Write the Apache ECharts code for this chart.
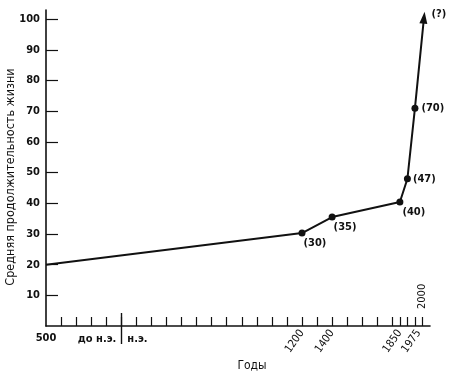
<!DOCTYPE html>
<html>
<head>
<meta charset="utf-8">
<script src="https://cdn.jsdelivr.net/npm/echarts@6/dist/echarts.min.js"></script>
<style>
  html, body { margin: 0; padding: 0; background: #fff; }
  #chart { width: 450px; height: 377px; }
</style>
</head>
<body>
<div id="chart"></div>
<script>
// годы и средняя продолжительность жизни
var years = [-500, 1200, 1400, 1850, 1900, 1950, 2010];
var lifeValues = [20, 30.3, 35.5, 40.4, 48, 71, 100.5];
var pointLabels = ['', '(30)', '(35)', '(40)', '(47)', '(70)', '(?)'];

// подписи осей
var yTicks = [10, 20, 30, 40, 50, 60, 70, 80, 90, 100];
var xTickYears = [-400, -300, -200, -100, 0, 100, 200, 300, 400, 500, 600, 700, 800, 900, 1000,
    1100, 1200, 1300, 1400, 1500, 1600, 1700, 1800, 1850, 1900, 1950, 2000];
var xSlantLabels = [1200, 1400, 1850, 1975];
var xUpLabels = [2000];

var font = '"Liberation Sans Narrow", "DejaVu Sans Condensed", "Liberation Sans", sans-serif';
var ink = '#111';

var labelOffsets = [[0, 0], [-7, 10], [-7, 10], [-6, 10], [-3, 0], [-2, 0], [-2, -4]];

var lineData = years.map(function (y, i) {
    var item = {
        value: [y, lifeValues[i]],
        label: {
            show: pointLabels[i] !== '',
            formatter: pointLabels[i],
            position: 'right',
            offset: labelOffsets[i]
        }
    };
    if (i === 0) item.symbol = 'none';
    if (i === years.length - 1) {
        item.symbol = 'triangle';
        item.symbolSize = [8, 12];
        item.symbolRotate = -6;
    }
    return item;
});

function plain(v) { return String(Math.abs(v)); }

function extraAxis(opt) {
    var base = {
        type: 'value', min: -500, max: 2050, position: 'bottom',
        axisLine: { show: false },
        axisTick: { show: false },
        splitLine: { show: false },
        axisLabel: { show: false }
    };
    return Object.assign(base, opt);
}

var chart = echarts.init(document.getElementById('chart'));
chart.setOption({
    animation: false,
    grid: { left: 46, right: 20, top: 10, bottom: 51, outerBoundsMode: 'none' },
    xAxis: [
        {
            type: 'value', min: -500, max: 2050,
            name: 'Годы', nameLocation: 'middle', nameGap: 34, nameMoveOverlap: false,
            nameTextStyle: { color: ink, fontSize: 12, fontFamily: font, padding: [0, 0, 0, 28] },
            axisLine: { onZero: false, lineStyle: { color: ink, width: 1.6 } },
            axisTick: { inside: true, length: 9, customValues: xTickYears, lineStyle: { color: ink, width: 1.2 } },
            splitLine: { show: false },
            axisLabel: {
                customValues: [-500], margin: 7, color: ink, fontSize: 11, fontWeight: 'bold', fontFamily: font,
                formatter: plain
            }
        },
        extraAxis({
            axisLabel: {
                show: true, customValues: xSlantLabels, rotate: 55, margin: 5,
                color: ink, fontSize: 11, fontFamily: font, formatter: plain
            }
        }),
        extraAxis({
            axisLabel: {
                show: true, customValues: xUpLabels, rotate: 90, inside: true, margin: 17,
                color: ink, fontSize: 11, fontFamily: font, formatter: plain
            }
        }),
        extraAxis({
            axisTick: { show: true, customValues: [0], length: 18, lineStyle: { color: ink, width: 1.4 } },
            axisLabel: {
                show: true, customValues: [0], margin: 8, align: 'right', padding: [0, 5, 0, 0],
                color: ink, fontSize: 11, fontWeight: 'bold', fontFamily: font,
                formatter: function () { return 'до н.э.'; }
            }
        }),
        extraAxis({
            axisTick: { show: true, inside: true, customValues: [0], length: 13, lineStyle: { color: ink, width: 1.4 } },
            axisLabel: {
                show: true, customValues: [0], margin: 8, align: 'left', padding: [0, 0, 0, 6],
                color: ink, fontSize: 11, fontWeight: 'bold', fontFamily: font,
                formatter: function () { return 'н.э.'; }
            }
        })
    ],
    yAxis: {
        type: 'value', min: 0, max: 103,
        name: 'Средняя продолжительность жизни', nameLocation: 'middle', nameGap: 29, nameMoveOverlap: false,
        nameTextStyle: { color: ink, fontSize: 12.5, fontFamily: font, padding: [0, 18, 0, 0] },
        axisLine: { show: true, onZero: false, lineStyle: { color: ink, width: 1.6 } },
        axisTick: { show: true, inside: true, length: 12, customValues: yTicks, lineStyle: { color: ink, width: 1.2 } },
        splitLine: { show: false },
        axisLabel: { customValues: yTicks, margin: 6, color: ink, fontSize: 11, fontWeight: 'bold', fontFamily: font }
    },
    series: [{
        type: 'line',
        xAxisIndex: 0,
        data: lineData,
        symbol: 'circle',
        symbolSize: 7,
        lineStyle: { color: ink, width: 2 },
        itemStyle: { color: ink },
        label: { color: ink, fontSize: 11, fontWeight: 'bold', fontFamily: font },
        silent: true
    }]
});
</script>
</body>
</html>
